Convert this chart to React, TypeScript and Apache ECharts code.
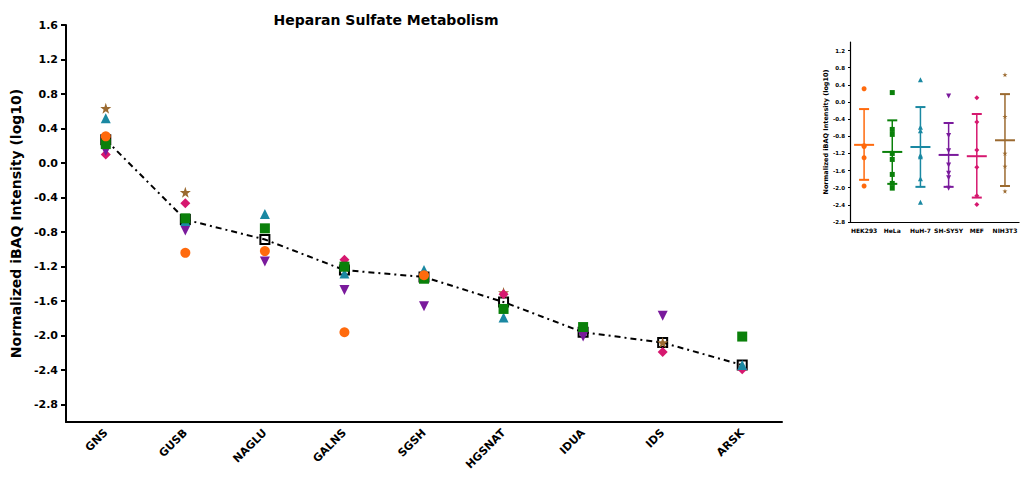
import React, { useEffect, useRef } from "react";
import * as echarts from "echarts";

const categories = ["GNS", "GUSB", "NAGLU", "GALNS", "SGSH", "HGSNAT", "IDUA", "IDS", "ARSK"];
const cellLines = ["HEK293", "HeLa", "HuH-7", "SH-SY5Y", "MEF", "NIH3T3"];

const hek293 = [0.31, -1.04, -1.02, -1.96, -1.3, null, null, null, null];
const hela = [0.22, -0.64, -0.756, -1.2, -1.34, -1.69, -1.9, null, -2.01];
const huh7 = [0.52, -0.67, -0.59, -1.28, -1.24, -1.79, null, null, -2.34];
const shsy5y = [0.14, -0.78, -1.14, -1.47, -1.66, null, -2.01, -1.77, null];
const mef = [0.1, -0.466, null, -1.12, null, -1.52, null, -2.19, -2.39];
const nih3t3 = [0.635, -0.339, null, -1.2, null, -1.5, null, -2.08, null];
const medians = [0.27, -0.655, -0.885, -1.24, -1.32, -1.61, -1.96, -2.08, -2.34];

const insetMeans = [-1.0, -1.165, -1.05, -1.235, -1.265, -0.893];
const insetUpper = [-0.165, -0.428, -0.118, -0.49, -0.28, 0.184];
const insetLower = [-1.816, -1.91, -1.98, -1.98, -2.23, -1.96];

const mainTicks = [-2.8, -2.4, -2.0, -1.6, -1.2, -0.8, -0.4, 0.0, 0.4, 0.8, 1.2, 1.6];
const insetTicks = [-2.8, -2.4, -2.0, -1.6, -1.2, -0.8, -0.4, 0.0, 0.4, 0.8, 1.2];

const STAR =
  "path://M50,0 L61.8,35.1 L98.1,35.1 L68.7,56.8 L79.4,91.2 L50,70 L20.6,91.2 L31.3,56.8 L1.9,35.1 L38.2,35.1 Z";

const lines = [
  { name: "HEK293", data: hek293, color: "#FF6A0D", symbol: "circle", rotate: 0, size: 10 },
  { name: "HeLa", data: hela, color: "#0A800A", symbol: "rect", rotate: 0, size: 10 },
  { name: "HuH-7", data: huh7, color: "#1A88A2", symbol: "triangle", rotate: 0, size: 10 },
  { name: "SH-SY5Y", data: shsy5y, color: "#7A1A9C", symbol: "triangle", rotate: 180, size: 10 },
  { name: "MEF", data: mef, color: "#D6186F", symbol: "diamond", rotate: 0, size: 10 },
  { name: "NIH3T3", data: nih3t3, color: "#9B6A30", symbol: STAR, rotate: 0, size: 11 },
];

const FONT = "DejaVu Sans";

export default function App() {
  const ref = useRef<HTMLDivElement>(null);
  useEffect(() => {
    if (!ref.current) return;
    const chart = echarts.init(ref.current, null, { renderer: "svg" });
    const drawOrder = [5, 4, 3, 2, 1, 0];
    const mainSeries: any[] = drawOrder.map((k) => {
      const l = lines[k];
      return {
        type: "scatter",
        name: l.name,
        xAxisIndex: 0,
        yAxisIndex: 0,
        symbol: l.symbol,
        symbolRotate: l.rotate,
        symbolSize: l.size,
        itemStyle: { color: l.color, opacity: 1 },
        data: l.data
          .map((v, i) => (v == null ? null : [i, v]))
          .filter((d) => d != null),
        z: 3,
      };
    });
    const insetSeries: any[] = drawOrder.map((k) => {
      const l = lines[k];
      return {
        type: "scatter",
        name: l.name + " inset",
        xAxisIndex: 1,
        yAxisIndex: 1,
        symbol: l.symbol,
        symbolRotate: l.rotate,
        symbolSize: 5,
        itemStyle: { color: l.color, opacity: 1 },
        data: l.data.filter((v) => v != null).map((v) => [k, v]),
        z: 3,
      };
    });
    const option: any = {
      animation: false,
      backgroundColor: "#fff",
      graphic: [
        {
          type: "text",
          x: 386,
          y: 20,
          style: {
            text: "Heparan Sulfate Metabolism",
            font: `bold 14px "${FONT}"`,
            fill: "#000",
            textAlign: "center",
            textVerticalAlign: "middle",
          },
        },
      ],
      grid: [
        { left: 66, right: 238, top: 25, bottom: 62, containLabel: false },
        { left: 850, right: -3, top: 42, bottom: 262, containLabel: false },
      ],
      xAxis: [
        {
          type: "category",
          gridIndex: 0,
          data: categories,
          boundaryGap: true,
          axisLine: { onZero: false, lineStyle: { color: "#000", width: 2 } },
          axisTick: { alignWithLabel: true, length: 5, lineStyle: { color: "#000", width: 2 } },
          axisLabel: {
            rotate: 45,
            margin: 9,
            color: "#000",
            fontFamily: FONT,
            fontWeight: "bold",
            fontSize: 11,
          },
          splitLine: { show: false },
        },
        {
          type: "category",
          gridIndex: 1,
          data: cellLines,
          boundaryGap: true,
          axisLine: { onZero: false, lineStyle: { color: "#000", width: 1.2 } },
          axisTick: { alignWithLabel: true, length: 2, lineStyle: { color: "#000", width: 1 } },
          axisLabel: {
            margin: 5,
            color: "#000",
            fontFamily: FONT,
            fontWeight: "bold",
            fontSize: 6,
            interval: 0,
          },
          splitLine: { show: false },
        },
      ],
      yAxis: [
        {
          type: "value",
          gridIndex: 0,
          min: -3.0,
          max: 1.6,
          name: "Normalized iBAQ Intensity (log10)",
          nameLocation: "middle",
          nameGap: 42,
          nameTextStyle: { color: "#000", fontFamily: FONT, fontWeight: "bold", fontSize: 14 },
          axisLine: { show: true, onZero: false, lineStyle: { color: "#000", width: 2 } },
          axisTick: {
            show: true,
            length: 5,
            customValues: mainTicks,
            lineStyle: { color: "#000", width: 2 },
          },
          axisLabel: {
            customValues: mainTicks,
            formatter: (v: number) => v.toFixed(1),
            margin: 8,
            color: "#000",
            fontFamily: FONT,
            fontWeight: "bold",
            fontSize: 11,
          },
          splitLine: { show: false },
        },
        {
          type: "value",
          gridIndex: 1,
          min: -2.8,
          max: 1.4,
          name: "Normalized iBAQ Intensity (log10)",
          nameLocation: "middle",
          nameGap: 18,
          nameTextStyle: { color: "#000", fontFamily: FONT, fontWeight: "bold", fontSize: 6.5 },
          axisLine: { show: true, onZero: false, lineStyle: { color: "#000", width: 1.2 } },
          axisTick: {
            show: true,
            length: 2,
            customValues: insetTicks,
            lineStyle: { color: "#000", width: 1 },
          },
          axisLabel: {
            customValues: insetTicks,
            formatter: (v: number) => v.toFixed(1),
            margin: 5,
            color: "#000",
            fontFamily: FONT,
            fontWeight: "bold",
            fontSize: 5.5,
          },
          splitLine: { show: false },
        },
      ],
      series: [
        {
          type: "line",
          name: "Median",
          xAxisIndex: 0,
          yAxisIndex: 0,
          data: medians,
          symbol: "rect",
          symbolSize: 9,
          itemStyle: { color: "rgba(255,255,255,0)", borderColor: "#000", borderWidth: 2 },
          lineStyle: { color: "#000", width: 2, type: [6, 4, 2, 4] },
          z: 2,
        },
        ...mainSeries,
        ...insetSeries,
        {
          type: "custom",
          name: "Mean ± SD",
          xAxisIndex: 1,
          yAxisIndex: 1,
          z: 4,
          encode: { x: 0, y: [1, 2, 3] },
          data: cellLines.map((c, i) => [i, insetMeans[i], insetUpper[i], insetLower[i]]),
          renderItem: (params: any, api: any) => {
            const i = api.value(0);
            const m = api.coord([i, api.value(1)]);
            const t = api.coord([i, api.value(2)]);
            const b = api.coord([i, api.value(3)]);
            const col = lines[params.dataIndex].color;
            const st = { stroke: col, lineWidth: 1.5, fill: "none" };
            return {
              type: "group",
              children: [
                { type: "line", shape: { x1: t[0], y1: t[1], x2: b[0], y2: b[1] }, style: st },
                { type: "line", shape: { x1: t[0] - 5, y1: t[1], x2: t[0] + 5, y2: t[1] }, style: { ...st, lineWidth: 2 } },
                { type: "line", shape: { x1: b[0] - 5, y1: b[1], x2: b[0] + 5, y2: b[1] }, style: { ...st, lineWidth: 2 } },
                { type: "line", shape: { x1: m[0] - 10, y1: m[1], x2: m[0] + 10, y2: m[1] }, style: { ...st, lineWidth: 2 } },
              ],
            };
          },
        },
      ],
    };
    chart.setOption(option);
    return () => chart.dispose();
  }, []);
  return (
    <div
      ref={ref}
      style={{ position: "fixed", left: 0, top: 0, width: 1020, height: 484, background: "#fff" }}
    />
  );
}
